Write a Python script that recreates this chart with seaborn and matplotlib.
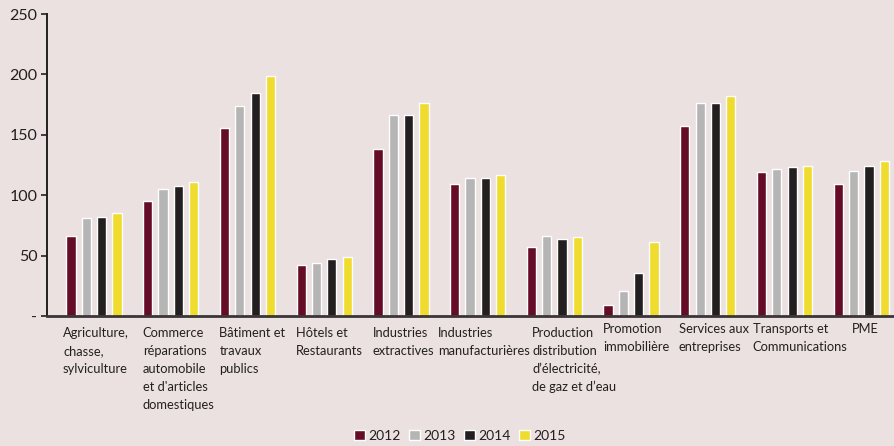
import matplotlib
matplotlib.use("Agg")
import matplotlib.pyplot as plt
import seaborn as sns
import pandas as pd

categories = [
    "Agriculture,\nchasse,\nsylviculture",
    "Commerce\nréparations\nautomobile\net d'articles\ndomestiques",
    "Bâtiment et\ntravaux\npublics",
    "Hôtels et\nRestaurants",
    "Industries\nextractives",
    "Industries\nmanufacturières",
    "Production\ndistribution\nd’électricité,\nde gaz et d’eau",
    "Promotion\nimmobilière",
    "Services aux\nentreprises",
    "Transports et\nCommunications",
    "PME",
]
years = ["2012", "2013", "2014", "2015"]
v2012 = [66, 95, 156, 42, 138, 109, 57, 9, 157, 119, 109]
v2013 = [81, 105, 174, 44, 166, 114, 66, 21, 176, 122, 120]
v2014 = [82, 108, 185, 47, 166, 114, 64, 36, 176, 123, 124]
v2015 = [85, 111, 199, 49, 176, 117, 65, 61, 182, 124, 128]
ytick_values = [0, 50, 100, 150, 200, 250]
ytick_labels = ["-", "50", "100", "150", "200", "250"]

# layout (pixel offsets of label blocks relative to group centre)
label_dx_px = [-31, -28, -28, -28, -28, -40, -22, -28, -29, -32, -9]
label_dy_px = [0, 0, 0, 0, 0, 0, 0, -4, -4, -4, -4]
line_step_px = 18

colors = ["#650d27", "#b5b5b5", "#231f20", "#f0dc2e"]
bg = "#ebe1e1"

df = pd.DataFrame({
    "cat": categories * 4,
    "year": sum([[y] * len(categories) for y in years], []),
    "val": v2012 + v2013 + v2014 + v2015,
})

sns.set_style("white")
plt.rcParams["font.family"] = ["Lato", "DejaVu Sans"]

fig = plt.figure(figsize=(8.95, 4.46), dpi=100, facecolor=bg)
ax = fig.add_axes([47 / 895, (446 - 316) / 446, 1 - 47 / 895, (316 - 14) / 446])
ax.set_facecolor(bg)

sns.barplot(data=df, x="cat", y="val", hue="year", palette=colors,
            width=0.8, gap=0.4, saturation=1, ax=ax, legend=True)

ax.set_xlim(-0.613, 10.44)
ax.set_ylim(0, 250)
ax.set_yticks(ytick_values)
ax.set_yticklabels(ytick_labels, fontsize=11.5, color="#231f20")
ax.tick_params(axis="y", length=4, width=1.2, direction="out", pad=3, color="#231f20", left=True)
ax.set_xticks([])
ax.set_xlabel("")
ax.set_ylabel("")
for s in ["top", "right"]:
    ax.spines[s].set_visible(False)
ax.spines["left"].set_color("#231f20")
ax.spines["left"].set_linewidth(1.4)
ax.spines["bottom"].set_color("#3a3537")
ax.spines["bottom"].set_linewidth(2.0)

px2pt = 72 / 100
for i, lab in enumerate(categories):
    for k, line in enumerate(lab.split("\n")):
        ax.annotate(line, xy=(i, 0), xycoords=("data", "axes fraction"),
                    xytext=(label_dx_px[i] * px2pt,
                            -(17 + label_dy_px[i] + k * line_step_px) * px2pt),
                    textcoords="offset points", ha="left", va="center",
                    fontsize=9.3, color="#231f20")

handles, labels = ax.get_legend_handles_labels()
ax.legend_.remove()
fig.legend(handles, labels, loc="center", bbox_to_anchor=(460 / 895, 1 - 436 / 446),
           ncol=4, frameon=False, handlelength=0.78, handleheight=0.78,
           handletextpad=0.25, columnspacing=0.6, fontsize=10,
           labelcolor="#231f20", borderpad=0, borderaxespad=0)

fig.savefig("out.png", dpi=100, facecolor=bg)
